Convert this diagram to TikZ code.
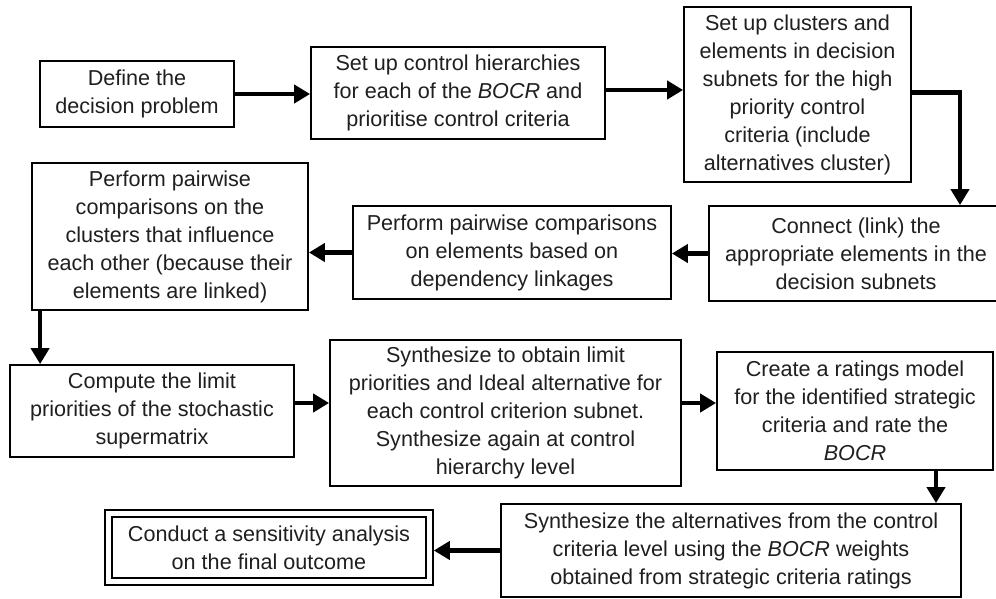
\documentclass[tikz,border=0pt]{standalone}
\usepackage{fontspec}
\setmainfont{Liberation Sans}
\usetikzlibrary{arrows.meta,fit}

\tikzset{
  box/.style={draw=black, line width=1.8pt, fill=white, align=center,
    inner sep=2pt, text=black!88,
    font=\fontsize{21.6}{28}\selectfont},
  arr/.style={line width=4.6pt, -{Triangle[length=16pt,width=18pt]}},
}

\begin{document}
\begin{tikzpicture}[x=1pt, y=-1pt]
\useasboundingbox[fill=white] (0,0) rectangle (996,599);

% top row
\node[box, minimum width=194pt, minimum height=66pt] (b1) at (137,94)
  {Define the\\decision problem};
\node[box, minimum width=294pt, minimum height=92pt] (b2) at (458,93)
  {Set up control hierarchies\\for each of the \textit{BOCR} and\\prioritise control criteria};
\node[box, minimum width=227pt, minimum height=175pt] (b3) at (797.5,94.5)
  {Set up clusters and\\elements in decision\\subnets for the high\\priority control\\criteria (include\\alternatives cluster)};

% second row (runs right to left)
\node[box, minimum width=294pt, minimum height=95pt] (b4) at (856,253.5)
  {Connect (link) the\\appropriate elements in the\\decision subnets};
\node[box, minimum width=318pt, minimum height=93pt] (b5) at (512,252.5)
  {Perform pairwise comparisons\\on elements based on\\dependency linkages};
\node[box, minimum width=276pt, minimum height=147pt] (b6) at (170,236.5)
  {Perform pairwise\\comparisons on the\\clusters that influence\\each other (because their\\elements are linked)};

% third row
\node[box, minimum width=284pt, minimum height=92pt] (b7) at (152,411)
  {Compute the limit\\priorities of the stochastic\\supermatrix};
\node[box, minimum width=351pt, minimum height=146pt] (b8) at (505.5,413)
  {Synthesize to obtain limit\\priorities and Ideal alternative for\\each control criterion subnet.\\Synthesize again at control\\hierarchy level};
\node[box, minimum width=276pt, minimum height=118pt] (b9) at (855,411)
  {Create a ratings model\\for the identified strategic\\criteria and rate the\\\textit{BOCR}};

% bottom row
\node[box, minimum width=460pt, minimum height=93pt] (b10) at (731,550.5)
  {Synthesize the alternatives from the control\\criteria level using the \textit{BOCR} weights\\obtained from strategic criteria ratings};
\node[box, minimum width=314pt, minimum height=61pt] (b11) at (269,547.5)
  {Conduct a sensitivity analysis\\on the final outcome};
\node[draw=black, line width=1.8pt, fit=(b11), inner sep=6pt] (b11o) {};

% connectors
\draw[arr] (b1.east) -- (b1.east -| b2.west);
\draw[arr] ([yshift=3pt]b2.east) -- ([yshift=3pt]b2.east -| b3.west);
\draw[arr] ([yshift=2pt]b3.east) -| ([xshift=104pt]b4.north);
\draw[arr] (b4.west) -- (b4.west -| b5.east);
\draw[arr] (b5.west) -- (b5.west -| b6.east);
\draw[arr] ([xshift=9pt]b6.south west) -- ([xshift=9pt]b6.south west |- b7.north);
\draw[arr] ([yshift=8pt]b7.east) -- ([yshift=8pt]b7.east -| b8.west);
\draw[arr] ([yshift=10pt]b8.east) -- ([yshift=10pt]b8.east -| b9.west);
\draw[arr] ([xshift=81pt]b9.south) -- ([xshift=81pt]b9.south |- b10.north);
\draw[arr] (b10.west) -- (b10.west -| b11o.east);
\end{tikzpicture}
\end{document}
